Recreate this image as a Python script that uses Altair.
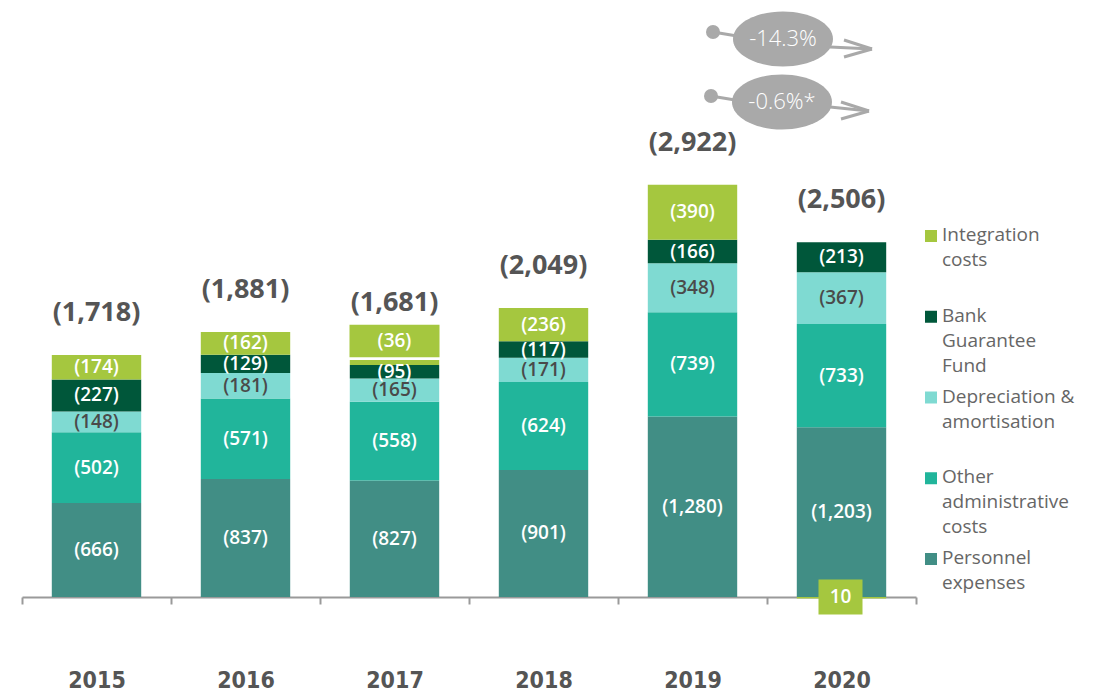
import altair as alt
import pandas as pd

years = ["2015", "2016", "2017", "2018", "2019", "2020"]
categories = ["Personnel expenses", "Other administrative costs",
              "Depreciation & amortisation", "Bank Guarantee Fund", "Integration costs"]
personnel = [666, 837, 827, 901, 1280, 1203]
other_admin = [502, 571, 558, 624, 739, 733]
depreciation = [148, 181, 165, 171, 348, 367]
bank_guarantee = [227, 129, 95, 117, 166, 213]
integration = [174, 162, 36, 236, 390, -10]
totals = [1718, 1881, 1681, 2049, 2922, 2506]
colors = ["#418E85", "#21B59B", "#7FDAD2", "#00573A", "#A5C73F"]
legend_order = ["Integration costs", "Bank Guarantee Fund", "Depreciation & amortisation",
                "Other administrative costs", "Personnel expenses"]
legend_text = ["Integration\ncosts", "Bank\nGuarantee\nFund", "Depreciation &\namortisation",
               "Other\nadministrative\ncosts", "Personnel\nexpenses"]
change_labels = ["-14.3%", "-0.6%*"]

series = [personnel, other_admin, depreciation, bank_guarantee, integration]

# ---- build tables ----
rows = []
tops = []
has_box_above = []
for i, yr in enumerate(years):
    pos = 0
    neg = 0
    above = False
    for c, cat in enumerate(categories):
        v = series[c][i]
        if v >= 0:
            y0, y1 = pos, pos + v
            pos += v
        else:
            y0, y1 = neg, neg + v
            neg += v
        lab = f"({v:,})" if v > 0 else f"{-v:,}"
        boxed = cat == "Integration costs" and abs(v) < 50
        if boxed and v > 0:
            above = True
        rows.append(dict(year=yr, category=cat, order=c, value=v, y0=y0, y1=y1,
                         mid=(y0 + y1) / 2, label=lab, boxed=boxed))
    tops.append(pos)
    has_box_above.append(above)
for r in rows:
    r["top"] = tops[years.index(r["year"])]
df = pd.DataFrame(rows)
df["zero"] = 0

tot_df = pd.DataFrame({"year": years, "top": tops, "above": has_box_above,
                       "label": [f"({t:,})" for t in totals]})

FONT = "Open Sans"
NARROW = "Liberation Sans Narrow, DejaVu Sans Condensed, sans-serif"

xenc = alt.X("year:N", sort=years,
             scale=alt.Scale(paddingInner=0, paddingOuter=0),
             axis=alt.Axis(title=None, labelAngle=0, domainColor="#9A9A9A", domainWidth=2,
                           tickColor="#9A9A9A", tickWidth=2, tickSize=7, tickBand="extent",
                           labelPadding=65, labelFont=NARROW, labelFontSize=23,
                           labelFontWeight="bold", labelColor="#555555"))
yscale = alt.Scale(domain=[0, 4177], nice=False, zero=False)

base = alt.Chart(df)

bars = base.mark_bar(width=alt.RelativeBandSize(0.6)).encode(
    x=xenc,
    y=alt.Y("y0:Q", scale=yscale, axis=None),
    y2="y1:Q",
    color=alt.Color("category:N", scale=alt.Scale(domain=categories, range=colors), legend=None),
    order="order:Q",
)

seg_labels = base.transform_filter("!datum.boxed").mark_text(
    font=FONT, fontSize=19, fontWeight=600, baseline="middle"
).encode(
    x=alt.X("year:N", sort=years),
    y=alt.Y("mid:Q", scale=yscale),
    text="label:N",
    color=alt.condition("datum.category == 'Depreciation & amortisation'",
                        alt.value("#4A4A4A"), alt.value("white")),
)

RECT_ABOVE = "M-1,-0.36H1V0.36H-1Z"
RECT_BELOW = "M-1,-0.8H1V0.8H-1Z"

box_above = base.transform_filter("datum.boxed && datum.value > 0").mark_point(
    shape=RECT_ABOVE, size=8100, filled=True, opacity=1, color=colors[4], yOffset=-19
).encode(x=alt.X("year:N", sort=years), y=alt.Y("top:Q", scale=yscale))
box_above_txt = base.transform_filter("datum.boxed && datum.value > 0").mark_text(
    font=FONT, fontSize=19, fontWeight=600, color="white", dy=-19
).encode(x=alt.X("year:N", sort=years), y=alt.Y("top:Q", scale=yscale), text="label:N")

box_below = base.transform_filter("datum.boxed && datum.value < 0").mark_point(
    shape=RECT_BELOW, size=1936, filled=True, opacity=1, color=colors[4], xOffset=-1
).encode(x=alt.X("year:N", sort=years), y=alt.Y("zero:Q", scale=yscale))
box_below_txt = base.transform_filter("datum.boxed && datum.value < 0").mark_text(
    font=FONT, fontSize=19, fontWeight=600, color="white", dx=-1
).encode(x=alt.X("year:N", sort=years), y=alt.Y("zero:Q", scale=yscale), text="label:N")

totals_plain = alt.Chart(tot_df).transform_filter("!datum.above").mark_text(
    font=FONT, fontSize=27, fontWeight="bold", color="#555555", dy=-42
).encode(x=alt.X("year:N", sort=years), y=alt.Y("top:Q", scale=yscale), text="label:N")
totals_boxed = alt.Chart(tot_df).transform_filter("datum.above").mark_text(
    font=FONT, fontSize=27, fontWeight="bold", color="#555555", dy=-57
).encode(x=alt.X("year:N", sort=years), y=alt.Y("top:Q", scale=yscale), text="label:N")

layers = [bars, seg_labels, box_above, box_above_txt, box_below, box_below_txt,
          totals_plain, totals_boxed]

# ---- manual legend ----
for i, (cat, txt) in enumerate(zip(legend_order, legend_text)):
    yy = 228 + i * 80.75
    col = colors[categories.index(cat)]
    d = pd.DataFrame({"t": [txt]})
    layers.append(alt.Chart(d).mark_square(size=144, filled=True, opacity=1, color=col)
                  .encode(x=alt.value(909), y=alt.value(yy)))
    layers.append(alt.Chart(d).mark_text(font=FONT, fontSize=19, color="#666666", align="left",
                                         baseline="top", lineBreak="\n", lineHeight=25)
                  .encode(x=alt.value(920), y=alt.value(yy - 10), text="t:N"))

# ---- change annotations ----
GREY = "#A9A9A9"
ELLIPSE = "M-1,0A1,0.55,0,1,1,1,0A1,0.55,0,1,1,-1,0Z"
ann = [
    dict(cx=761, cy=31, dx=691, dy=24, ex=715, ey=28, sx=808, sy=39, tx=850, ty=41),
    dict(cx=760, cy=94, dx=689, dy=88, ex=713, ey=92, sx=808, sy=99, tx=847, ty=103),
]
for a, lab in zip(ann, change_labels):
    d = pd.DataFrame({"t": [lab]})
    c = alt.Chart(d)
    layers.append(c.mark_rule(color=GREY, strokeWidth=3).encode(
        x=alt.value(a["dx"]), x2=alt.value(a["ex"]), y=alt.value(a["dy"]), y2=alt.value(a["ey"])))
    layers.append(c.mark_circle(size=196, opacity=1, color=GREY).encode(
        x=alt.value(a["dx"]), y=alt.value(a["dy"])))
    layers.append(c.mark_rule(color=GREY, strokeWidth=3).encode(
        x=alt.value(a["sx"]), x2=alt.value(a["tx"]), y=alt.value(a["sy"]), y2=alt.value(a["ty"])))
    layers.append(c.mark_rule(color=GREY, strokeWidth=3).encode(
        x=alt.value(a["tx"] - 28), x2=alt.value(a["tx"]), y=alt.value(a["ty"] - 9), y2=alt.value(a["ty"])))
    layers.append(c.mark_rule(color=GREY, strokeWidth=3).encode(
        x=alt.value(a["tx"] - 28), x2=alt.value(a["tx"]), y=alt.value(a["ty"] + 8), y2=alt.value(a["ty"])))
    layers.append(c.mark_point(shape=ELLIPSE, size=10000, filled=True, opacity=1, color=GREY,
                               strokeWidth=0).encode(x=alt.value(a["cx"]), y=alt.value(a["cy"])))
    layers.append(c.mark_text(font=FONT, fontSize=22, color="white", fontWeight=300).encode(
        x=alt.value(a["cx"]), y=alt.value(a["cy"]), text="t:N"))

chart = alt.layer(*layers).properties(
    width=894, height=589,
    padding={"left": 14, "top": 0, "right": 177, "bottom": 95},
    autosize=alt.AutoSizeParams(type="none"),
).configure_view(stroke=None)

chart.save("out.html", embed_options={"renderer": "svg", "actions": False})
